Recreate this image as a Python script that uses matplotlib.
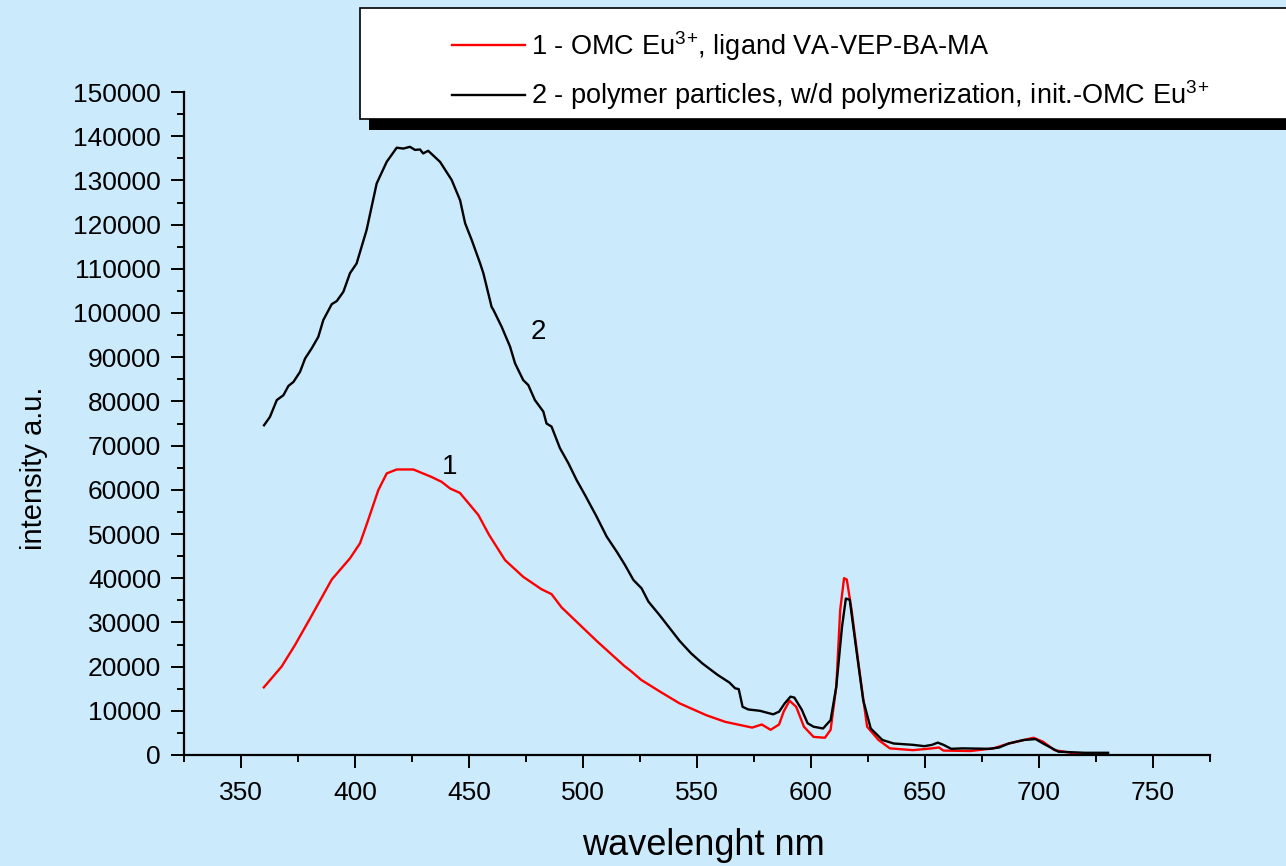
import numpy as np
import matplotlib
matplotlib.use("Agg")
import matplotlib.pyplot as plt
from matplotlib.patches import Rectangle
from matplotlib.ticker import MultipleLocator

plt.rcParams['font.family'] = ['Liberation Sans', 'DejaVu Sans']
plt.rcParams['mathtext.default'] = 'regular'

# spectre 1 : OMC Eu3+, ligand VA-VEP-BA-MA (rouge)
wl_1 = [360, 367.8, 373.7, 380.3, 389.8, 397.8, 402.2, 405.8, 410.2, 413.9,
        418.3, 425.6, 433.6, 438, 441.7, 446, 454.1, 458.8, 465.8, 473.8,
        481.8, 486.2, 490.6, 506, 518, 521, 525.5, 533.9, 542.3, 554.1,
        562.4, 574.2, 578.4, 582.3, 586, 588, 590.6, 593.5, 596.9, 601.1,
        606.1, 608.6, 611.1, 612.8, 614.5, 615.7, 617.8, 621.2, 624.6, 629.6,
        634.6, 644.7, 653.1, 656.1, 658.1, 669.9, 680, 686.7, 697.6, 701.8,
        706.8, 715.2, 720]
int_1 = [15300, 20000, 24900, 30900, 39700, 44500, 47900, 53200, 59900, 63700,
         64600, 64600, 62900, 61800, 60300, 59300, 54300, 49800, 44100, 40300,
         37500, 36400, 33400, 25800, 20200, 19000, 17000, 14300, 11700, 9000,
         7500, 6200, 6900, 5700, 6900, 9800, 12300, 10900, 6400, 4100,
         3900, 5700, 15500, 32800, 40000, 39700, 32800, 19200, 6400, 3400,
         1500, 1100, 1500, 1700, 1000, 900, 1500, 2600, 3900, 3000,
         1100, 400, 300]

# spectre 2 : particules de polymere (noir)
wl_2 = [360.1, 362.7, 365.7, 368.6, 370.8, 373, 375.9, 378.1, 381, 383.9,
        386.1, 389.8, 392, 394.9, 397.8, 400.7, 405.1, 409.5, 413.9, 418.3,
        421.2, 424.1, 426.3, 428.5, 429.9, 432.1, 437.3, 442.4, 446.1, 448.3,
        451.2, 454.9, 456.3, 459.9, 460.7, 464.3, 468, 470.2, 473.8, 476,
        478.9, 482.6, 484, 486.2, 489.9, 493.6, 497.2, 500.9, 506, 510.4,
        514.8, 518.4, 522.1, 525.7, 528.7, 533.8, 542.4, 547.4, 552.4, 559.1,
        564.2, 566.7, 568.3, 570, 572.5, 577.6, 583.4, 586, 588.5, 591,
        592.7, 596, 598.5, 601.1, 605.3, 608.6, 611.1, 613.6, 615.3, 617,
        619.5, 622.9, 626.2, 631.3, 636.3, 644.7, 649.7, 653.1, 655.6, 658.1,
        661.5, 666.5, 678.3, 682.5, 686.7, 693.4, 698.5, 701.8, 708.5, 720.3,
        730.3]
int_2 = [74600, 76500, 80300, 81400, 83500, 84400, 86700, 89700, 92000, 94600,
         98400, 102000, 102700, 104800, 109000, 111200, 118800, 129300, 134200, 137400,
         137200, 137600, 136900, 137000, 136100, 136700, 134200, 130100, 125500, 120300,
         116500, 111200, 109000, 101400, 100700, 96900, 92400, 88600, 84800, 83700,
         80300, 77700, 75000, 74300, 69400, 66000, 62200, 58800, 53900, 49400,
         46000, 43000, 39600, 37700, 34700, 31500, 25800, 23000, 20700, 18100,
         16400, 15100, 14900, 10900, 10300, 10000, 9200, 9800, 11700, 13200,
         13000, 10200, 7200, 6400, 6000, 7900, 15500, 29000, 35400, 35100,
         25300, 12400, 6000, 3400, 2600, 2300, 2000, 2300, 2800, 2300,
         1400, 1500, 1400, 1700, 2600, 3400, 3600, 2600, 750, 500,
         500]

labels = ['1 - OMC Eu$^{3}$$^{+}$, ligand VA-VEP-BA-MA',
          '2 - polymer particles, w/d polymerization, init.-OMC Eu$^{3}$$^{+}$']

bg = '#cbebfd'
fig = plt.figure(figsize=(12.86, 8.66), dpi=100, facecolor=bg)
ax = fig.add_axes([184 / 1286, 1 - 755 / 866, 1026 / 1286, 663 / 866])
ax.set_facecolor(bg)

l1, = ax.plot(wl_1, int_1, color='#ff0000', lw=1.7, label=labels[0])
l2, = ax.plot(wl_2, int_2, color='black', lw=1.7, label=labels[1])

ax.set_xlim(325, 775)
ax.set_ylim(0, 150000)
ax.xaxis.set_major_locator(MultipleLocator(50))
ax.xaxis.set_minor_locator(MultipleLocator(25))
ax.yaxis.set_major_locator(MultipleLocator(10000))
ax.yaxis.set_minor_locator(MultipleLocator(5000))
ax.set_xticks([350, 400, 450, 500, 550, 600, 650, 700, 750])

for s in ['top', 'right']:
    ax.spines[s].set_visible(False)
for s in ['left', 'bottom']:
    ax.spines[s].set_linewidth(1.6)

ax.tick_params(which='major', direction='out', length=9.5, width=1.4, labelsize=19, pad=7)
ax.tick_params(which='minor', direction='out', length=5, width=1.4)
ax.tick_params(axis='x', which='major', pad=9)

ax.set_xlabel('wavelenght nm', fontsize=26)
ax.set_ylabel('intensity a.u.', fontsize=21)
ax.xaxis.set_label_coords(0.506, -0.11)
ax.yaxis.set_label_coords(-0.133, 0.433)

ax.text(441.7, 65100, '1', fontsize=20, ha='center', va='center')
ax.text(480.3, 95700, '2', fontsize=20, ha='center', va='center')

# cadre de la legende avec ombre noire
fig.add_artist(Rectangle((369 / 1286, 1 - 130 / 866), 1.0, 120 / 866,
                         transform=fig.transFigure, facecolor='black',
                         edgecolor='none', zorder=5))
fig.add_artist(Rectangle((360 / 1286, 1 - 119 / 866), 1.0, 111 / 866,
                         transform=fig.transFigure, facecolor='white',
                         edgecolor='black', lw=1.2, zorder=6))

leg = fig.legend(handles=[l1, l2], loc='upper left',
                 bbox_to_anchor=(452 / 1286, 1 - 29 / 866),
                 frameon=False, fontsize=19.5, handlelength=2.7,
                 handletextpad=0.22, labelspacing=0.58, borderpad=0,
                 borderaxespad=0)
leg.set_zorder(7)

fig.savefig('out.png', dpi=100, facecolor=bg)
